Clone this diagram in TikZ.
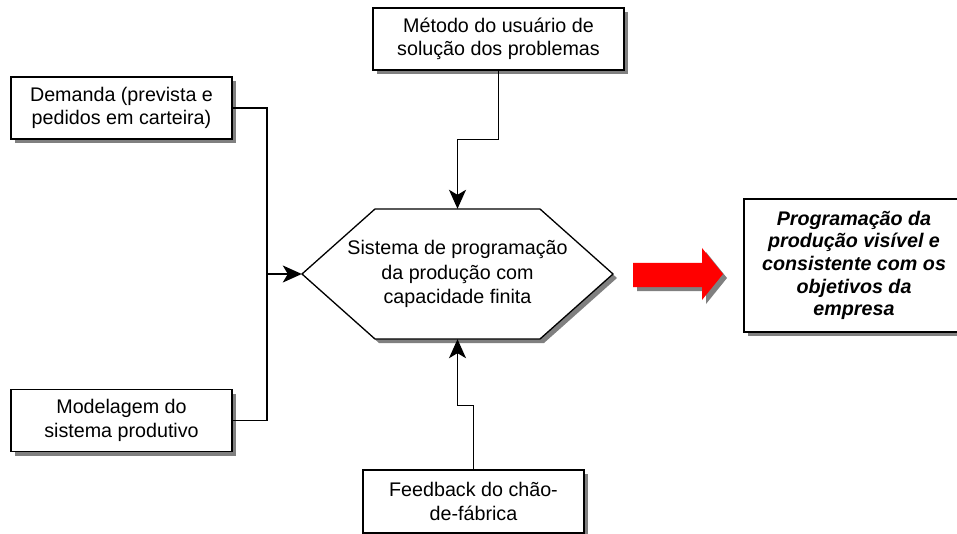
\documentclass[tikz,border=0pt]{standalone}
\usepackage{fontspec}
\setmainfont{Liberation Sans}
\usetikzlibrary{arrows.meta,shadows}
\tikzset{block/.style={%
        rectangle,
        draw, fill=white,
        line width=1.3pt,
        minimum width=221pt, minimum height=62pt,
        align=center,
        font=\fontsize{19.7}{23.5}\selectfont,
        drop shadow={shadow xshift=4pt,shadow yshift=-4pt,fill=black!50,opacity=1}}}
\tikzset{hexbox/.style={draw, fill=white, line width=1.3pt,
        drop shadow={shadow xshift=4pt,shadow yshift=-4pt,fill=black!50,opacity=1}}}
\tikzset{line/.style={line width=1.5pt}}
\tikzset{link/.style={line width=1.5pt,-{Stealth[length=19pt,width=17pt,inset=5pt]}}}

\begin{document}
\begin{tikzpicture}[x=1pt,y=-1pt]
  \useasboundingbox (0,0) rectangle (957,534);
  \node [block] (dem) at (121.5,108) {Demanda (prevista e\\pedidos em carteira)};
  \node [block, minimum width=251pt] (met) at (498.5,39) {Método do usuário de\\solução dos problemas};
  \node [block] (mod) at (121.5,420.5) {Modelagem do\\sistema produtivo};
  \node [block, minimum height=63pt] (fee) at (473.5,501.5) {Feedback do chão-\\de-fábrica};
  \node [block, minimum width=220pt, minimum height=133pt,
         font=\fontsize{19.7}{22.7}\selectfont\bfseries\itshape] (res) at (854,265.5)
        {Programação da\\produção visível e\\consistente com os\\objetivos da\\empresa};
  % hexagon
  \path [hexbox] (302,274) -- (375,209) -- (540,209) -- (613,274) -- (540,339) -- (375,339) -- cycle;
  \node [minimum width=311pt, minimum height=130pt, inner sep=0pt, align=center,
         font=\fontsize{19.7}{24.5}\selectfont] (sys) at (457.5,274)
        {Sistema de programação\\da produção com\\capacidade finita};
  % red arrow
  \path [fill=red, drop shadow={shadow xshift=4pt,shadow yshift=-4pt,fill=black!50,opacity=1}]
    (633,263) -- (702,263) -- (702,248) -- (723,274) -- (702,300) -- (702,287) -- (633,287) -- cycle;
  \coordinate (join) at (267,274);
  \draw [line] (dem.east) -| (join);
  \draw [line] (mod.east) -| (join);
  \draw [link] (join) -- (sys.west);
  \draw [link] (met.south) -- ++(0,69) -| (sys.north);
  \draw [link] (fee.north) -- ++(0,-64) -| (sys.south);
\end{tikzpicture}
\end{document}
